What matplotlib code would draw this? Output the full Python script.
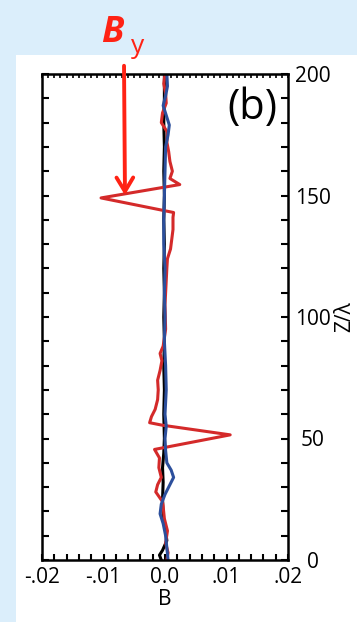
import numpy as np
import matplotlib.pyplot as plt
from matplotlib.patches import Rectangle

plt.rcParams['font.family'] = ['Open Sans', 'DejaVu Sans']

# profiles of B across z (z in units of lambda)
z_black = [0, 2, 4, 8, 12, 18, 25, 32, 38, 44, 50, 60, 70, 80, 90, 100, 110, 120,
           130, 140, 150, 160, 170, 180, 190, 200]
b_black = [-0.0006, -0.0009, -0.0004, 0.0003, 0.0001, -0.0003, -0.0004, -0.0003,
           -0.0004, -0.0002, -0.0001, -0.0002, -0.0001, -0.0002, -0.0001, -0.0002,
           -0.0001, -0.0002, -0.0001, -0.0002, -0.0001, -0.0002, -0.0001, -0.0002,
           -0.0001, -0.0001]

z_red = [0, 3, 7, 12, 17, 22, 24, 28, 31, 34, 38, 42, 45.5, 51.5, 55.5, 56.5, 59,
         62, 66, 70, 74, 78, 82, 85, 88, 95, 105, 115, 120, 124, 128, 132, 136, 141,
         143, 149, 154.5, 157, 160, 164, 168, 172, 176, 180, 184, 188, 192, 196, 200]
b_red = [0.0003, 0.0005, 0.0001, 0.0004, -0.0001, -0.0003, -0.0004, -0.0015,
         -0.0012, -0.0006, -0.0010, -0.0009, -0.0017, 0.0106, -0.0005, -0.0025,
         -0.0022, -0.0016, -0.0012, -0.0011, -0.0012, -0.0008, -0.0005, -0.0008,
         -0.0003, 0.0001, 0.0000, 0.0002, 0.0003, 0.0004, 0.0009, 0.0011, 0.0013,
         0.0013, 0.0014, -0.0104, 0.0024, 0.0008, 0.0012, 0.0008, 0.0006, 0.0003,
         0.0004, -0.0006, -0.0004, 0.0002, 0.0001, -0.0002, 0.0000]

z_blue = [0, 5, 10, 15, 19, 23, 27, 31, 34, 37, 40, 45, 50, 55, 60, 70, 80, 90, 100,
          110, 120, 130, 140, 150, 160, 170, 175, 179, 183, 187, 191, 195, 200]
b_blue = [0.0005, 0.0003, 0.0001, -0.0003, -0.0008, -0.0006, 0.0000, 0.0008, 0.0014,
          0.0010, 0.0003, 0.0001, 0.0000, 0.0002, 0.0000, 0.0002, 0.0001, -0.0001,
          0.0000, -0.0001, 0.0000, -0.0002, -0.0002, -0.0001, 0.0000, 0.0001, 0.0005,
          0.0007, 0.0002, -0.0003, 0.0001, 0.0004, 0.0003]

x_ticks = [-0.02, -0.01, 0.0, 0.01, 0.02]
x_ticklabels = ['-.02', '-.01', '0.0', '.01', '.02']
z_ticks = [0, 50, 100, 150, 200]

W, H = 357, 622
fig = plt.figure(figsize=(W / 100, H / 100), dpi=100)
fig.patch.set_facecolor('#dbeefb')
fig.add_artist(Rectangle((16 / W, 0), 1 - 16 / W, (H - 55) / H,
                         transform=fig.transFigure, facecolor='white',
                         edgecolor='none', zorder=0))

ax = fig.add_axes([42 / W, (H - 560) / H, 246 / W, 486 / H])
ax.set_facecolor('white')

ax.plot(b_black, z_black, color='black', lw=2.2)
ax.plot(b_red, z_red, color='#d42a2a', lw=2.2)
ax.plot(b_blue, z_blue, color='#2c4f9c', lw=2.2)

ax.set_xlim(-0.02, 0.02)
ax.set_ylim(0, 200)

for s in ax.spines.values():
    s.set_linewidth(1.8)

ax.set_xticks(x_ticks)
ax.set_xticklabels(x_ticklabels, fontsize=15)
ax.set_xticks(np.arange(-0.02, 0.0201, 0.002), minor=True)
ax.tick_params(axis='x', which='both', direction='in', top=False, bottom=True,
               length=4, width=1.5, pad=5)

# fine ticks along the top edge
top = ax.secondary_xaxis('top')
top.set_xticks(np.arange(-0.02, 0.0201, 0.001))
top.set_xticklabels([])
top.tick_params(direction='in', length=3, width=1.2)

# z labels sit centred in a column to the right of the frame
ax.yaxis.tick_right()
ax.yaxis.set_label_position('right')
ax.set_yticks(z_ticks)
ax.set_yticklabels([str(v) for v in z_ticks], fontsize=15, ha='center')
ax.set_yticks(np.arange(0, 201, 10), minor=True)
ax.tick_params(axis='y', which='both', direction='in', left=True, right=True,
               length=5, width=1.5)
ax.tick_params(axis='y', which='major', pad=18)

ax.set_xlabel('B', fontsize=15, labelpad=1)
ax.set_ylabel('Z/λ', fontsize=15, rotation=90, va='center', ha='center')
ax.yaxis.set_label_coords(1.232, 0.5)

ax.text(0.855, 0.93, '(b)', transform=ax.transAxes, fontsize=30,
        ha='center', va='center')

# B_y label with arrow
red = '#ff2214'
fig.text(101 / W, (H - 42) / H, 'B', color=red, fontsize=26, fontweight='bold',
         fontstyle='italic', ha='left', va='baseline')
fig.text(131 / W, (H - 53) / H, 'y', color=red, fontsize=19, ha='left',
         va='baseline')
ax.annotate('', xy=(125, H - 198), xycoords='figure pixels',
            xytext=(124, H - 63), textcoords='figure pixels',
            arrowprops=dict(arrowstyle='->,head_length=1.0,head_width=0.6',
                            color=red, lw=2.8))

fig.savefig('out.png', dpi=100, facecolor=fig.get_facecolor())
